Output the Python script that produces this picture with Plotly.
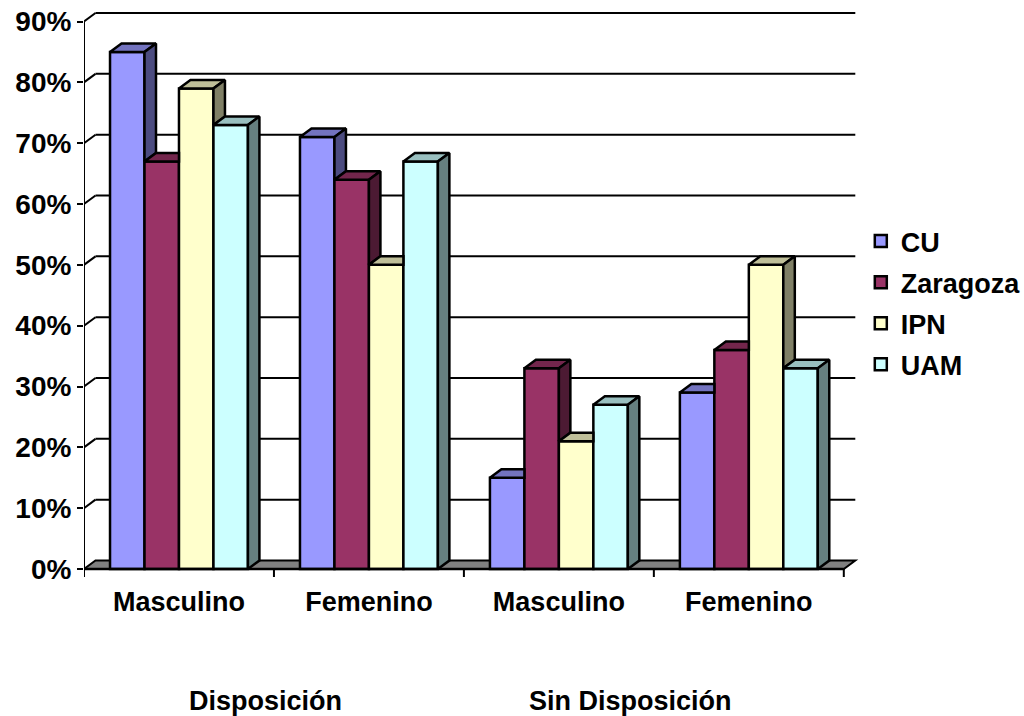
import plotly.graph_objects as go

# ---- data -------------------------------------------------------------
categories = ["Masculino", "Femenino", "Masculino", "Femenino"]
group_labels = ["Disposición", "Sin Disposición"]
series_names = ["CU", "Zaragoza", "IPN", "UAM"]
cu = [85, 71, 15, 29]
zaragoza = [67, 64, 33, 36]
ipn = [79, 50, 21, 50]
uam = [73, 67, 27, 33]
y_ticks = [0, 10, 20, 30, 40, 50, 60, 70, 80, 90]
y_tick_labels = ["0%", "10%", "20%", "30%", "40%", "50%", "60%", "70%", "80%", "90%"]

series_values = [cu, zaragoza, ipn, uam]
front_colors = ["#9999FF", "#993366", "#FFFFCC", "#CCFFFF"]

# ---- geometry ---------------------------------------------------------
W, H = 1024, 716
PX_X = 190.0            # pixels per category
PX_Y = 6.083            # pixels per percentage point
LEFT, TOP = 84, 5
X_LO, X_HI = -0.5, 3.58
ZERO_PX = 569           # pixel row of 0 %
BOTTOM_PX = 580
Y_LO = -(BOTTOM_PX - ZERO_PX) / PX_Y
Y_HI = (ZERO_PX - TOP) / PX_Y
plot_w = (X_HI - X_LO) * PX_X
plot_h = BOTTOM_PX - TOP

DX = 11.5 / PX_X        # 3-D depth offset, horizontal (data units)
DY = 8.5 / PX_Y         # 3-D depth offset, vertical (data units)

BARGAP = 0.274
N = len(series_values)
BAR_W = (1 - BARGAP) / N
EDGE = "#000000"
LW = 2.5


def shade(hex_color, k):
    h = hex_color.lstrip("#")
    r, g, b = (int(h[i:i + 2], 16) for i in (0, 2, 4))
    return "#%02X%02X%02X" % (round(r * k), round(g * k), round(b * k))


def px_to_paper_y(py):
    return (BOTTOM_PX - py) / plot_h


def px_to_paper_x(px):
    return (px - LEFT) / plot_w


def px_to_data_x(px):
    return X_LO + (px - LEFT) / PX_X


fig = go.Figure()

# front faces: ordinary grouped bars
for name, vals, col in zip(series_names, series_values, front_colors):
    fig.add_trace(go.Bar(
        x=list(range(len(categories))), y=vals, name=name,
        marker=dict(color=col, line=dict(color=EDGE, width=LW)),
        legendgroup=name, hoverinfo="name+y",
    ))

# top and side faces, clipped where the next bar in the cluster hides them
for j, (vals, col) in enumerate(zip(series_values, front_colors)):
    top_x, top_y, side_x, side_y = [], [], [], []
    for i, v in enumerate(vals):
        x0 = i - (1 - BARGAP) / 2 + j * BAR_W
        x1 = x0 + BAR_W
        nxt = series_values[j + 1][i] if j + 1 < N else None

        # top face
        if nxt is None or nxt <= v:
            pts = [(x0, v), (x1, v), (x1 + DX, v + DY), (x0 + DX, v + DY)]
        else:
            c = min(nxt, v + DY)
            pts = [(x0, v), (x1, v), (x1, c),
                   (x1 + (v + DY - c) * DX / DY, v + DY), (x0 + DX, v + DY)]
        pts.append(pts[0])
        top_x += [p[0] for p in pts] + [None]
        top_y += [p[1] for p in pts] + [None]

        # side face
        if nxt is None:
            pts = [(x1, 0), (x1, v), (x1 + DX, v + DY), (x1 + DX, DY)]
        elif nxt < v:
            pts = [(x1, nxt), (x1, v), (x1 + DX, v + DY), (x1 + DX, nxt + DY)]
        else:
            pts = []
        if pts:
            pts.append(pts[0])
            side_x += [p[0] for p in pts] + [None]
            side_y += [p[1] for p in pts] + [None]

    fig.add_trace(go.Scatter(
        x=top_x, y=top_y, mode="lines", fill="toself",
        fillcolor=shade(col, 0.75), line=dict(color=EDGE, width=LW),
        showlegend=False, hoverinfo="skip"))
    if side_x:
        fig.add_trace(go.Scatter(
            x=side_x, y=side_y, mode="lines", fill="toself",
            fillcolor=shade(col, 0.5), line=dict(color=EDGE, width=LW),
            showlegend=False, hoverinfo="skip"))

# ---- walls, floor, axes ----------------------------------------------
shapes = []
x_first, x_last = -0.5, len(categories) - 0.5
shapes.append(dict(
    type="path", layer="below",
    path=(f"M{x_first},0 L{x_last},0 L{x_last + DX},{DY} "
          f"L{x_first + DX},{DY} Z"),
    fillcolor="#808080", line=dict(color=EDGE, width=2)))
for v in y_ticks[1:]:
    shapes.append(dict(type="line", layer="below",
                       x0=x_first + DX, y0=v + DY, x1=x_last + DX, y1=v + DY,
                       line=dict(color=EDGE, width=2)))
    shapes.append(dict(type="line", layer="below",
                       x0=x_first, y0=v, x1=x_first + DX, y1=v + DY,
                       line=dict(color=EDGE, width=2)))
# front vertical axis and front floor edge
shapes.append(dict(type="line", layer="above", x0=x_first, y0=0,
                   x1=x_first, y1=y_ticks[-1], line=dict(color=EDGE, width=2)))
shapes.append(dict(type="line", layer="above", x0=x_first, y0=0,
                   x1=x_last, y1=0, line=dict(color=EDGE, width=2.5)))
# category boundary ticks
for k in range(len(categories) + 1):
    xb = x_first + k
    shapes.append(dict(type="line", layer="above", x0=xb, y0=0, x1=xb,
                       y1=-8 / PX_Y, line=dict(color=EDGE, width=2)))

font_bold = dict(family="Liberation Sans, Arial, sans-serif", size=27,
                 color="#000000", weight="bold")
font_ticks_y = dict(font_bold, size=28)

annotations = []
for label, px in zip(group_labels, [266, 631]):
    annotations.append(dict(
        text=label, x=px_to_data_x(px), xref="x", y=px_to_paper_y(701),
        yref="paper", xanchor="center", yanchor="middle", showarrow=False,
        font=font_bold))

fig.update_layout(
    width=W, height=H, autosize=False,
    margin=dict(l=LEFT, r=W - LEFT - plot_w, t=TOP, b=H - BOTTOM_PX,
                autoexpand=False),
    paper_bgcolor="white", plot_bgcolor="white",
    barmode="group", bargap=BARGAP, bargroupgap=0,
    shapes=shapes, annotations=annotations,
    showlegend=True,
    legend=dict(x=px_to_paper_x(861), xanchor="left",
                y=px_to_paper_y(217), yanchor="top",
                font=font_bold, bgcolor="rgba(0,0,0,0)",
                tracegroupgap=3),
    xaxis=dict(range=[X_LO, X_HI], tickvals=list(range(len(categories))),
               ticktext=categories, ticks="", showgrid=False,
               zeroline=False, showline=False, tickfont=font_bold,
               ticklabelstandoff=3, fixedrange=True),
    yaxis=dict(range=[Y_LO, Y_HI], tickvals=y_ticks, ticktext=y_tick_labels,
               ticks="outside", ticklen=6, tickwidth=2, tickcolor=EDGE,
               showgrid=False, zeroline=False, showline=False,
               tickfont=font_ticks_y, fixedrange=True),
)

fig.write_html("out.html")
